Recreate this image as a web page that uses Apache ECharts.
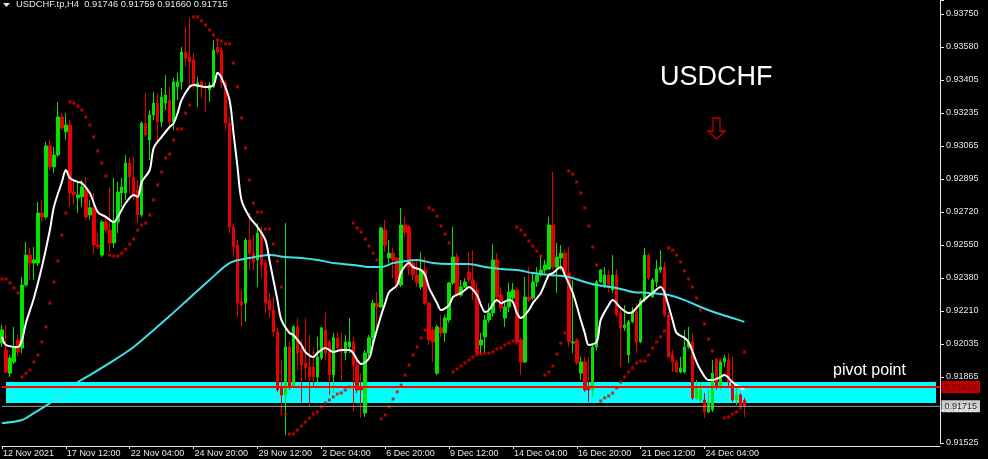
<!DOCTYPE html>
<html>
<head>
<meta charset="utf-8">
<script src="https://cdn.jsdelivr.net/npm/echarts@6.0.0/dist/echarts.min.js"></script>
<style>
html,body{margin:0;padding:0;background:#000;}
#chart{width:988px;height:459px;}
</style>
</head>
<body>
<div id="chart"></div>
<script>
// ---------- data ----------
const headerText = 'USDCHF.tp,H4  0.91746 0.91759 0.91660 0.91715';
const titleText = 'USDCHF';
const zoneText = 'pivot point';
const firstBarTime = Date.UTC(2021, 10, 12, 20);
const slotCount = 236;
const xTickEvery = 16;
const xTickLabels = ['12 Nov 2021','17 Nov 12:00','22 Nov 04:00','24 Nov 20:00','29 Nov 12:00','2 Dec 04:00','6 Dec 20:00','9 Dec 12:00','14 Dec 04:00','16 Dec 20:00','21 Dec 12:00','24 Dec 04:00'];
const yTickLabels = ['0.91525','0.91695','0.91865','0.92035','0.92210','0.92380','0.92550','0.92720','0.92895','0.93065','0.93235','0.93405','0.93580','0.93750'];

const openP = [0.92043,0.92007,0.91887,0.91945,0.92059,0.92018,0.92344,0.92499,0.92458,0.92458,
0.92717,0.92697,0.93065,0.92956,0.93018,0.93215,0.93138,0.93173,0.92826,0.92796,
0.92801,0.92837,0.92707,0.92744,0.92551,0.92499,0.92671,0.92629,0.92562,0.92671,
0.92821,0.92821,0.92976,0.92904,0.92837,0.92707,0.93183,0.93096,0.93225,0.93287,
0.93189,0.93287,0.93303,0.93189,0.93371,0.93397,0.93552,0.93526,0.93511,0.93371,
0.93397,0.93371,0.93355,0.93371,0.93578,0.93562,0.93392,0.93183,0.92645,0.92551,
0.92256,0.92250,0.92577,0.92509,0.92474,0.92613,0.92458,0.92266,0.92214,0.92101,
0.91810,0.91774,0.92023,0.91815,0.92127,0.92007,0.91940,0.91919,0.91919,0.91867,
0.91966,0.92111,0.92049,0.91877,0.92070,0.92018,0.91991,0.92023,0.92049,0.91929,
0.91810,0.91680,0.91991,0.92070,0.92250,0.92230,0.92629,0.92484,0.92509,0.92484,
0.92344,0.92655,0.92645,0.92458,0.92396,0.92334,0.92422,0.92250,0.92111,0.91887,
0.92122,0.92096,0.92163,0.92355,0.92489,0.92292,0.92334,0.92411,0.92370,0.92318,
0.92033,0.92075,0.92163,0.92199,0.92474,0.92292,0.92173,0.92230,0.92277,0.92318,
0.92059,0.91945,0.92282,0.92277,0.92360,0.92396,0.92422,0.92427,0.92655,0.92437,
0.92484,0.92509,0.92406,0.92043,0.92059,0.91887,0.91945,0.91810,0.91800,0.92023,
0.92360,0.92334,0.92396,0.92318,0.92396,0.92199,0.92122,0.91981,0.92153,0.92204,
0.92049,0.92266,0.92499,0.92282,0.92360,0.92422,0.92437,0.92189,0.91981,0.91945,
0.91893,0.91893,0.92023,0.92049,0.91759,0.91748,0.91748,0.91686,0.91696,0.91955,
0.91815,0.91945,0.91955,0.91841,0.91748,0.91774,0.91746];

const closeP = [0.92111,0.91893,0.91966,0.92023,0.91997,0.92344,0.92499,0.92458,0.92474,0.92717,
0.92697,0.93065,0.92956,0.93018,0.93215,0.93158,0.93173,0.92821,0.92811,0.92811,
0.92852,0.92697,0.92744,0.92551,0.92541,0.92671,0.92629,0.92562,0.92671,0.92826,
0.92852,0.92976,0.92904,0.92801,0.92707,0.93183,0.93122,0.93225,0.93287,0.93189,
0.93319,0.93329,0.93189,0.93397,0.93397,0.93552,0.93521,0.93500,0.93381,0.93392,
0.93371,0.93366,0.93381,0.93562,0.93552,0.93392,0.93183,0.92645,0.92541,0.92250,
0.92240,0.92577,0.92509,0.92463,0.92613,0.92448,0.92250,0.92214,0.92101,0.91800,
0.91774,0.92023,0.91815,0.92127,0.91991,0.91929,0.91914,0.91867,0.91867,0.91971,
0.92122,0.91991,0.91877,0.92070,0.92018,0.91997,0.92049,0.92049,0.91929,0.91800,
0.91800,0.91991,0.92070,0.92250,0.92230,0.92640,0.92551,0.92509,0.92474,0.92344,
0.92655,0.92618,0.92437,0.92396,0.92355,0.92422,0.92250,0.92059,0.92049,0.92127,
0.92096,0.92173,0.92355,0.92489,0.92292,0.92334,0.92360,0.92370,0.92318,0.91991,
0.92059,0.92163,0.92199,0.92474,0.92282,0.92225,0.92230,0.92308,0.92318,0.92049,
0.91945,0.92282,0.92266,0.92360,0.92396,0.92422,0.92448,0.92655,0.92437,0.92489,
0.92509,0.92406,0.92049,0.92049,0.91940,0.91945,0.91800,0.91800,0.92023,0.92360,
0.92422,0.92396,0.92329,0.92396,0.92189,0.92122,0.92137,0.92153,0.92204,0.92049,
0.92266,0.92499,0.92380,0.92370,0.92427,0.92437,0.92189,0.91971,0.91945,0.91893,
0.91914,0.92023,0.92049,0.91759,0.91815,0.91800,0.91686,0.91732,0.91887,0.91815,
0.91945,0.91966,0.91841,0.91748,0.91774,0.91722,0.91715];

const lowP = [0.92023,0.91887,0.91867,0.91934,0.91976,0.91991,0.92334,0.92370,0.92370,0.92443,
0.92671,0.92686,0.92940,0.92924,0.93008,0.93148,0.93096,0.92749,0.92759,0.92717,
0.92749,0.92681,0.92681,0.92509,0.92530,0.92489,0.92613,0.92515,0.92536,0.92613,
0.92749,0.92785,0.92821,0.92785,0.92665,0.92697,0.93112,0.92992,0.93199,0.93080,
0.93163,0.93251,0.93158,0.93148,0.93303,0.93355,0.93475,0.93371,0.93355,0.93267,
0.93314,0.93241,0.93293,0.93366,0.93536,0.93366,0.93148,0.92613,0.92489,0.92178,
0.92127,0.92153,0.92422,0.92422,0.92334,0.92380,0.92198,0.92173,0.92075,0.91790,
0.91670,0.91566,0.91800,0.91810,0.91903,0.91732,0.91851,0.91712,0.91815,0.91836,
0.91955,0.91955,0.91774,0.91784,0.92007,0.91851,0.91955,0.91991,0.91686,0.91784,
0.91655,0.91660,0.91971,0.92043,0.92111,0.92225,0.92515,0.92458,0.92380,0.92318,
0.92334,0.92592,0.92396,0.92370,0.92334,0.92318,0.92240,0.92033,0.91945,0.91877,
0.92075,0.92049,0.92147,0.92344,0.92282,0.92282,0.92329,0.92355,0.92266,0.91981,
0.91991,0.91991,0.92147,0.92178,0.92250,0.92204,0.92127,0.92204,0.92266,0.92033,
0.91877,0.91940,0.92256,0.92266,0.92334,0.92386,0.92406,0.92422,0.92422,0.92303,
0.92422,0.92386,0.92023,0.91991,0.91929,0.91851,0.91790,0.91738,0.91764,0.92007,
0.92355,0.92329,0.92308,0.92303,0.92178,0.91919,0.92106,0.91940,0.92147,0.91991,
0.92043,0.92256,0.92370,0.92277,0.92334,0.92406,0.92178,0.91966,0.91893,0.91887,
0.91887,0.91887,0.92013,0.91748,0.91748,0.91732,0.91655,0.91680,0.91686,0.91800,
0.91800,0.91919,0.91815,0.91738,0.91722,0.91712,0.91660];

const highP = [0.92137,0.92137,0.91981,0.92127,0.92085,0.92386,0.92567,0.92536,0.92541,0.92775,
0.92785,0.93086,0.93096,0.93060,0.93293,0.93235,0.93235,0.93199,0.92888,0.92878,
0.92888,0.92904,0.92785,0.92821,0.92613,0.92681,0.92697,0.92852,0.92899,0.92878,
0.92899,0.93018,0.93003,0.93008,0.92888,0.93194,0.93339,0.93251,0.93345,0.93339,
0.93366,0.93433,0.93371,0.93418,0.93444,0.93578,0.93682,0.93729,0.93547,0.93423,
0.93407,0.93392,0.93397,0.93614,0.93614,0.93578,0.93407,0.93215,0.92665,0.92577,
0.92318,0.92587,0.92717,0.92603,0.92665,0.92645,0.92474,0.92303,0.92282,0.92122,
0.91955,0.92665,0.92049,0.92137,0.92173,0.92059,0.92173,0.92085,0.92023,0.92075,
0.92127,0.92204,0.92059,0.92096,0.92096,0.92096,0.92085,0.92173,0.92075,0.91955,
0.91887,0.92007,0.92085,0.92266,0.92308,0.92645,0.92681,0.92577,0.92536,0.92489,
0.92744,0.92697,0.92655,0.92474,0.92474,0.92515,0.92489,0.92256,0.92127,0.92137,
0.92189,0.92189,0.92360,0.92645,0.92509,0.92370,0.92380,0.92515,0.92525,0.92355,
0.92096,0.92189,0.92250,0.92556,0.92509,0.92334,0.92256,0.92355,0.92355,0.92334,
0.92070,0.92386,0.92437,0.92401,0.92437,0.92499,0.92474,0.92697,0.92930,0.92562,
0.92551,0.92525,0.92541,0.92370,0.92070,0.91971,0.91971,0.91971,0.92033,0.92370,
0.92427,0.92437,0.92422,0.92499,0.92427,0.92214,0.92240,0.92163,0.92230,0.92250,
0.92277,0.92536,0.92509,0.92380,0.92474,0.92525,0.92463,0.92204,0.92007,0.91955,
0.91971,0.92111,0.92127,0.92096,0.91851,0.91836,0.91784,0.91800,0.91955,0.91966,
0.91955,0.91981,0.91991,0.91971,0.91815,0.91784,0.91759];

// white moving average, [bar, price]
const maFast = [[0,0.92075],[1,0.92033],[4,0.92023],[5,0.92059],[6,0.92147],[8,0.92277],[10,0.92437],[12,0.92629],[13,0.92749],[15,0.92878],
[16,0.92940],[17,0.92899],[19,0.92878],[20,0.92873],[22,0.92821],[24,0.92722],[26,0.92697],[28,0.92671],[29,0.92697],[31,0.92769],
[33,0.92811],[34,0.92801],[35,0.92878],[37,0.92940],[38,0.93054],[40,0.93112],[42,0.93163],[43,0.93183],[44,0.93235],[45,0.93303],
[47,0.93371],[48,0.93381],[51,0.93371],[53,0.93381],[54,0.93444],[55,0.93418],[57,0.93303],[58,0.93132],[59,0.92956],[60,0.92785],
[62,0.92697],[64,0.92645],[66,0.92577],[67,0.92474],[69,0.92266],[70,0.92163],[72,0.92096],[73,0.92085],[75,0.92033],[76,0.91997],
[78,0.91971],[79,0.91991],[81,0.92018],[83,0.91997],[85,0.92007],[87,0.92007],[88,0.91991],[89,0.91955],[90,0.91934],[92,0.91966],
[93,0.92043],[95,0.92189],[96,0.92250],[97,0.92308],[99,0.92344],[100,0.92411],[102,0.92458],[103,0.92437],[105,0.92422],[106,0.92396],
[107,0.92329],[109,0.92250],[110,0.92214],[112,0.92240],[113,0.92282],[115,0.92303],[116,0.92318],[117,0.92334],[119,0.92292],[120,0.92240],
[121,0.92204],[122,0.92214],[124,0.92266],[125,0.92250],[127,0.92266],[128,0.92256],[129,0.92199],[130,0.92173],[132,0.92214],[133,0.92250],
[135,0.92303],[137,0.92396],[138,0.92406],[140,0.92437],[141,0.92396],[143,0.92303],[145,0.92163],[146,0.92096],[147,0.92033],[149,0.92049],
[150,0.92163],[152,0.92240],[153,0.92266],[155,0.92225],[157,0.92199],[158,0.92204],[160,0.92250],[162,0.92287],[163,0.92303],[165,0.92334],
[166,0.92303],[168,0.92163],[169,0.92096],[171,0.92070],[172,0.92049],[174,0.91945],[175,0.91903],[177,0.91851],[178,0.91851],[180,0.91867],
[181,0.91877],[183,0.91841],[184,0.91825],[186,0.91800]];

// cyan moving average, [bar, price]
const maSlow = [[0,0.91628],[5,0.91644],[8,0.91680],[12,0.91732],[16,0.91790],[19,0.91841],[22,0.91877],[27,0.91940],[33,0.92023],[38,0.92111],
[42,0.92183],[47,0.92277],[52,0.92370],[57,0.92458],[62,0.92484],[67,0.92499],[71,0.92489],[75,0.92484],[79,0.92474],[83,0.92458],
[88,0.92448],[92,0.92437],[95,0.92437],[98,0.92458],[101,0.92468],[104,0.92474],[108,0.92458],[112,0.92453],[117,0.92453],[121,0.92437],
[125,0.92427],[129,0.92422],[133,0.92406],[137,0.92396],[142,0.92386],[146,0.92360],[149,0.92344],[154,0.92329],[158,0.92308],[162,0.92303],
[167,0.92292],[171,0.92266],[175,0.92230],[179,0.92199],[183,0.92173],[186,0.92153]];

// parabolic SAR, one value per bar
const sarP = [0.92375,0.92375,0.92355,0.92329,0.92303,0.91867,0.91887,0.91903,0.91945,0.91981,
0.92049,0.92127,0.92250,0.92360,0.92468,0.92603,0.92717,0.93293,0.93287,0.93272,
0.93251,0.93215,0.93173,0.93112,0.93039,0.92976,0.92909,0.92499,0.92494,0.92494,
0.92509,0.92530,0.92556,0.92582,0.92629,0.92655,0.92665,0.92707,0.92785,0.92863,
0.92930,0.93003,0.93023,0.93096,0.93153,0.93153,0.93235,0.93277,0.93734,0.93734,
0.93713,0.93692,0.93666,0.93640,0.93614,0.93609,0.93594,0.93594,0.93495,0.93371,
0.93210,0.93054,0.92888,0.92769,0.92722,0.92722,0.92634,0.92634,0.92556,0.92468,
0.92334,0.91675,0.91572,0.91572,0.91592,0.91613,0.91634,0.91655,0.91675,0.91686,
0.91712,0.91732,0.91748,0.91764,0.91779,0.91784,0.91800,0.91815,0.92665,0.92640,
0.92619,0.92582,0.92546,0.92509,0.92474,0.91650,0.91670,0.91712,0.91753,0.91790,
0.91825,0.91877,0.91929,0.91981,0.92023,0.92070,0.92111,0.92744,0.92733,0.92702,
0.92650,0.92608,0.92562,0.91893,0.91909,0.91924,0.91940,0.91955,0.91971,0.91981,
0.91986,0.91991,0.91991,0.91997,0.92012,0.92018,0.92033,0.92043,0.92054,0.92645,
0.92629,0.92603,0.92572,0.92546,0.92520,0.92494,0.91877,0.91893,0.91924,0.91986,
0.92043,0.92096,0.92935,0.92919,0.92878,0.92821,0.92744,0.92650,0.92541,0.92448,
0.91743,0.91759,0.91769,0.91784,0.91810,0.91841,0.91867,0.91893,0.91914,0.91940,
0.91950,0.91950,0.91981,0.92018,0.92049,0.92075,0.92106,0.92536,0.92525,0.92499,
0.92463,0.92417,0.92375,0.92334,0.92277,0.92214,0.92142,0.92064,0.92002,0.91955,
0.91955,0.91655,0.91660,0.91675,0.91686,0.91707,0.91997];

const pivotLevel = 0.91815;
const bidLevel = 0.91715;
const zoneTop = 0.91841;
const zoneBottom = 0.91732;
const zoneFromBar = 1;
const zoneToBar = 234;
const arrowBar = 179;
const arrowPrice = 0.93155;

// ---------- build ----------
const months = ['Jan','Feb','Mar','Apr','May','Jun','Jul','Aug','Sep','Oct','Nov','Dec'];
const categories = [];
for (let t = firstBarTime; categories.length < slotCount; t += 4 * 3600 * 1000) {
  const d = new Date(t);
  const wd = d.getUTCDay();
  if (wd === 0 || wd === 6) continue;
  const hh = String(d.getUTCHours()).padStart(2, '0');
  categories.push(d.getUTCDate() + ' ' + months[d.getUTCMonth()] + ' ' + d.getUTCFullYear() + ' ' + hh + ':00');
}
const lastSlot = slotCount - 1;
const candles = openP.map((o, i) => [o, closeP[i], lowP[i], highP[i]]);
const sarData = sarP.map((v, i) => [i, v]);

const yMin = 0.91525;
const yStep = yMin / 535;           // tick spacing (yMin is an exact multiple)
const yMax = yMin + yStep * 443 / 33;
const lastTickIndex = (xTickLabels.length - 1) * xTickEvery;
const isTick = (i) => i % xTickEvery === 0 && i <= lastTickIndex;

const FONT = 'Liberation Sans, Arial, sans-serif';
const UP = '#00e400', DOWN = '#e80000';

function hLine(level, color, width) {
  return {type: 'line', data: [[0, level], [lastSlot, level]], zlevel: 1, z: 1, symbol: 'none', silent: true,
          clip: false, lineStyle: {color: color, width: width, opacity: 1}};
}
function priceTag(level, bg, fg) {
  return {type: 'scatter', data: [[lastSlot, level]], zlevel: 1, z: 2, silent: true, clip: false,
          symbolSize: 1, itemStyle: {color: 'rgba(0,0,0,0)'},
          label: {show: true, position: 'right', distance: 1, formatter: level.toFixed(5),
                  backgroundColor: bg, color: fg, fontSize: 9, fontFamily: FONT, padding: [2, 3, 1, 3]}};
}

const chart = echarts.init(document.getElementById('chart'), null, {renderer: 'canvas'});
chart.setOption({
  backgroundColor: '#000000',
  animation: false,
  grid: {left: 0, right: 48, top: 0, bottom: 16, containLabel: false},
  xAxis: {
    type: 'category', data: categories, boundaryGap: false, offset: 3,
    axisLine: {lineStyle: {color: '#e8e8e8', width: 1}},
    axisTick: {show: true, length: 3, interval: (i) => isTick(i), lineStyle: {color: '#e8e8e8'}},
    axisLabel: {
      interval: (i) => isTick(i), align: 'left', margin: 3, padding: [0, 0, 0, 1],
      color: '#e6e6e6', fontSize: 9, fontFamily: FONT,
      formatter: (v, i) => isTick(i) ? xTickLabels[i / xTickEvery] : ''
    },
    splitLine: {show: false}
  },
  yAxis: {
    type: 'value', position: 'right', min: yMin, max: yMax, interval: yStep, scale: true,
    axisLine: {show: true, lineStyle: {color: '#e8e8e8', width: 1}},
    axisTick: {show: true, length: 4, lineStyle: {color: '#e8e8e8'}},
    axisLabel: {
      color: '#e6e6e6', fontSize: 9, fontFamily: FONT, margin: 6,
      formatter: (v) => {
        const k = (v - yMin) / yStep;
        const r = Math.round(k);
        return Math.abs(k - r) < 0.02 && yTickLabels[r] ? yTickLabels[r] : '';
      }
    },
    splitLine: {show: false}
  },
  series: [
    {
      type: 'custom', z: 1, silent: true, clip: false,
      data: [[zoneFromBar, zoneTop, zoneToBar, zoneBottom]],
      encode: {x: [0, 2], y: [1, 3]},
      renderItem: (params, api) => {
        const a = api.coord([api.value(0), api.value(1)]);
        const b = api.coord([api.value(2), api.value(3)]);
        return {type: 'rect', shape: {x: a[0], y: a[1], width: b[0] - a[0], height: b[1] - a[1]},
                style: {fill: '#00ffff'}};
      }
    },
    {
      type: 'candlestick', data: candles, z: 2, barWidth: 3,
      itemStyle: {color: UP, color0: DOWN, borderColor: UP, borderColor0: DOWN, borderWidth: 1}
    },
    {
      type: 'line', data: maSlow, z: 3, symbol: 'none', smooth: 0.3, silent: true,
      lineStyle: {color: '#3fe0e6', width: 2}
    },
    {
      type: 'line', data: maFast, z: 3, symbol: 'none', smooth: 0.3, silent: true,
      lineStyle: {color: '#ffffff', width: 2}
    },
    {
      type: 'scatter', data: sarData, z: 4, symbol: 'rect', symbolSize: 3, silent: true,
      itemStyle: {color: '#e00000'}
    },
    hLine(bidLevel, '#a0a0a0', 1),
    hLine(pivotLevel, '#ff0000', 2),
    priceTag(bidLevel, '#ffffff', '#000000'),
    priceTag(pivotLevel, '#ee0000', '#600000'),
    {
      type: 'scatter', data: [[arrowBar, arrowPrice]], zlevel: 1, z: 3, silent: true,
      symbol: 'path://M5,0 L12,0 L12,13 L17,13 L8.5,21 L0,13 L5,13 Z', symbolSize: [17, 21],
      itemStyle: {color: 'rgba(0,0,0,0)', borderColor: '#e00000', borderWidth: 1.5}
    }
  ],
  graphic: [
    {type: 'polygon', shape: {points: [[3, 3], [10, 3], [6.5, 7]]}, style: {fill: '#e6e6e6'}, z: 10},
    {type: 'text', left: 16, top: 0, style: {text: headerText, fill: '#e6e6e6', font: '9.4px ' + FONT}, z: 10},
    {type: 'text', x: 660, y: 78, style: {text: titleText, fill: '#ffffff', font: '27px ' + FONT, verticalAlign: 'middle'}, z: 10},
    {type: 'text', x: 833, y: 371, style: {text: zoneText, fill: '#ffffff', font: '16px ' + FONT, verticalAlign: 'middle'}, z: 10}
  ]
});
</script>
</body>
</html>
